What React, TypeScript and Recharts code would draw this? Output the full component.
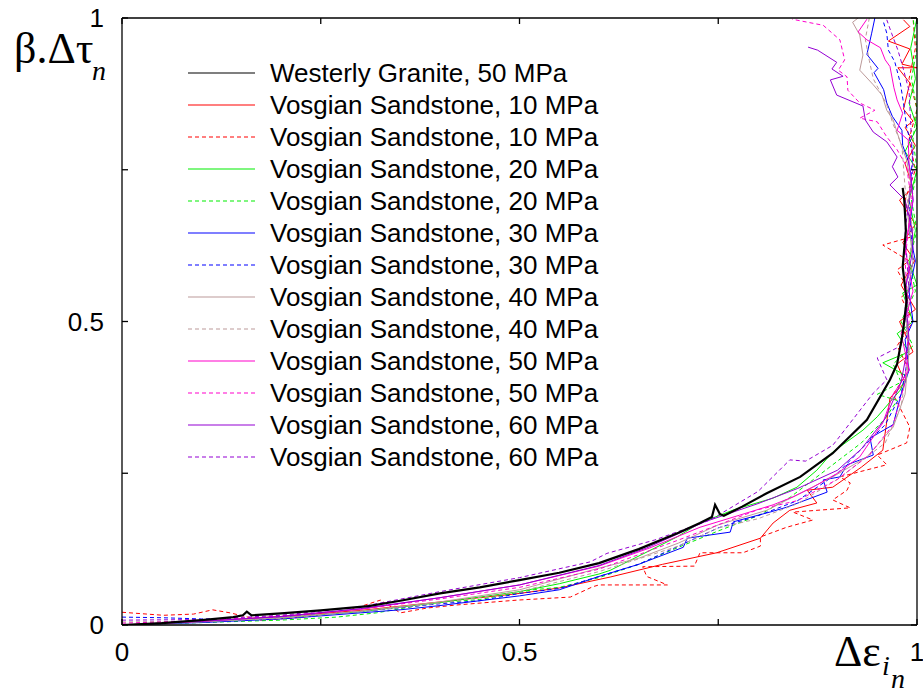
import { LineChart, Line, XAxis, YAxis, Legend } from 'recharts';

type Pt = [number, number];

// Westerly granite, 50 MPa
const granite: Pt[] = [
  [0, 0], [0.05, 0.003], [0.1, 0.008], [0.14, 0.013], [0.152, 0.016], [0.157, 0.022], [0.163, 0.016],
  [0.2, 0.019], [0.25, 0.024], [0.31, 0.031], [0.35, 0.04], [0.4, 0.052], [0.45, 0.062], [0.5, 0.074],
  [0.55, 0.086], [0.6, 0.102], [0.65, 0.125], [0.7, 0.152], [0.727, 0.168], [0.742, 0.178], [0.746, 0.198],
  [0.752, 0.183], [0.757, 0.18], [0.78, 0.195], [0.811, 0.217], [0.853, 0.244], [0.894, 0.283], [0.937, 0.338],
  [0.966, 0.404], [0.975, 0.43], [0.982, 0.48], [0.987, 0.535], [0.982, 0.59], [0.986, 0.65], [0.984, 0.7], [0.982, 0.72],
];

// Vosgian sandstone, two runs per confining pressure
const vs10a: Pt[] = [
  [0, 0], [0.1, 0.006], [0.2, 0.014], [0.3, 0.024], [0.4, 0.038], [0.5, 0.052], [0.55, 0.061], [0.614, 0.079],
  [0.68, 0.1], [0.748, 0.119], [0.803, 0.143], [0.819, 0.168], [0.84, 0.189], [0.874, 0.201], [0.862, 0.222],
  [0.894, 0.227], [0.93, 0.26], [0.957, 0.288], [0.966, 0.374], [0.985, 0.4], [0.975, 0.43], [0.995, 0.45],
  [0.978, 0.5], [0.998, 0.52], [0.98, 0.56], [0.997, 0.6], [0.982, 0.63], [0.998, 0.66], [0.978, 0.7],
  [0.995, 0.72], [0.985, 0.76], [0.998, 0.79], [0.985, 0.82], [0.995, 0.83], [0.983, 0.85], [0.991, 0.893],
  [0.976, 0.918], [1.0, 0.918], [0.981, 0.924], [0.991, 0.949], [0.964, 0.962], [0.991, 0.986], [0.983, 0.997],
];
const vs10b: Pt[] = [
  [0, 0.021], [0.052, 0.016], [0.09, 0.018], [0.114, 0.025], [0.136, 0.02], [0.174, 0.008], [0.22, 0.012],
  [0.28, 0.022], [0.325, 0.041], [0.35, 0.02], [0.384, 0.028], [0.421, 0.033], [0.497, 0.041], [0.564, 0.046],
  [0.592, 0.063], [0.6, 0.066], [0.686, 0.066], [0.66, 0.08], [0.655, 0.096], [0.72, 0.097], [0.727, 0.119],
  [0.781, 0.119], [0.803, 0.13], [0.803, 0.145], [0.836, 0.161], [0.869, 0.173], [0.844, 0.186], [0.916, 0.193],
  [0.894, 0.206], [0.912, 0.222], [0.916, 0.234], [0.903, 0.244], [0.962, 0.264], [0.95, 0.28], [0.987, 0.3],
  [0.991, 0.326], [0.97, 0.38], [0.99, 0.42], [0.975, 0.46], [0.995, 0.5], [0.98, 0.54], [0.99, 0.55],
  [0.975, 0.585], [0.99, 0.6], [0.957, 0.626], [0.995, 0.64], [0.985, 0.7], [0.998, 0.75], [0.99, 0.8],
  [1.0, 0.85], [0.99, 0.9], [0.998, 0.95], [0.995, 1.0],
];
const vs20a: Pt[] = [
  [0, 0], [0.1, 0.005], [0.2, 0.012], [0.3, 0.022], [0.4, 0.037], [0.5, 0.055], [0.55, 0.068], [0.6, 0.084],
  [0.614, 0.09], [0.698, 0.145], [0.727, 0.168], [0.77, 0.19], [0.819, 0.209], [0.849, 0.227], [0.874, 0.255],
  [0.894, 0.285], [0.932, 0.321], [0.95, 0.343], [0.979, 0.387], [0.987, 0.41], [0.957, 0.432], [0.99, 0.45],
  [0.975, 0.48], [0.995, 0.5], [0.982, 0.547], [1.0, 0.56], [0.99, 0.6], [0.998, 0.65], [0.99, 0.7], [1.0, 0.75],
  [0.985, 0.78], [1.0, 0.82], [0.99, 0.86], [0.998, 0.9], [0.992, 0.95], [1.0, 1.0],
];
const vs20b: Pt[] = [
  [0, 0], [0.1, 0.004], [0.199, 0.008], [0.27, 0.013], [0.32, 0.02], [0.391, 0.036], [0.45, 0.042], [0.517, 0.058],
  [0.55, 0.062], [0.6, 0.078], [0.65, 0.1], [0.7, 0.128], [0.75, 0.155], [0.8, 0.18], [0.84, 0.21], [0.87, 0.24],
  [0.9, 0.27], [0.93, 0.3], [0.96, 0.34], [0.975, 0.37], [0.95, 0.38], [0.98, 0.4], [0.97, 0.43], [0.995, 0.46],
  [0.98, 0.5], [0.998, 0.55], [0.99, 0.6], [1.0, 0.65], [0.993, 0.7], [1.0, 0.75], [0.995, 0.8], [1.0, 0.85],
  [0.993, 0.9], [1.0, 0.95], [0.995, 1.0],
];
const vs30a: Pt[] = [
  [0, 0], [0.1, 0.004], [0.2, 0.01], [0.3, 0.02], [0.35, 0.025], [0.4, 0.032], [0.5, 0.048], [0.55, 0.058],
  [0.6, 0.08], [0.65, 0.1], [0.706, 0.128], [0.711, 0.143], [0.765, 0.153], [0.769, 0.17], [0.815, 0.186],
  [0.836, 0.194], [0.887, 0.219], [0.882, 0.239], [0.903, 0.244], [0.912, 0.264], [0.945, 0.28], [0.941, 0.308],
  [0.97, 0.33], [0.98, 0.38], [0.99, 0.42], [0.985, 0.47], [0.995, 0.5], [0.99, 0.55], [0.998, 0.6], [0.99, 0.65],
  [0.995, 0.7], [0.992, 0.745], [0.989, 0.765], [0.982, 0.79], [0.981, 0.815], [0.969, 0.838], [0.962, 0.86],
  [0.958, 0.882], [0.946, 0.91], [0.951, 0.917], [0.937, 0.94], [0.943, 0.975], [0.947, 1.0],
];
const vs30b: Pt[] = [
  [0, 0.013], [0.05, 0.012], [0.1, 0.01], [0.15, 0.01], [0.2, 0.013], [0.3, 0.022], [0.4, 0.035], [0.45, 0.04],
  [0.5, 0.052], [0.55, 0.06], [0.6, 0.08], [0.65, 0.1], [0.7, 0.13], [0.75, 0.16], [0.8, 0.18], [0.85, 0.205],
  [0.9, 0.25], [0.93, 0.29], [0.96, 0.33], [0.98, 0.38], [0.99, 0.45], [0.985, 0.52], [0.995, 0.6], [0.99, 0.7],
  [0.995, 0.78], [0.987, 0.82], [0.983, 0.86], [0.979, 0.893], [0.972, 0.928], [0.964, 0.947], [0.962, 0.975],
  [0.957, 0.997],
];
const vs40a: Pt[] = [
  [0, 0], [0.1, 0.005], [0.2, 0.012], [0.3, 0.023], [0.4, 0.038], [0.5, 0.058], [0.601, 0.094], [0.65, 0.11],
  [0.7, 0.135], [0.75, 0.165], [0.811, 0.189], [0.853, 0.217], [0.894, 0.244], [0.937, 0.277], [0.97, 0.326],
  [0.985, 0.38], [0.99, 0.45], [0.985, 0.52], [0.995, 0.6], [0.988, 0.68], [0.992, 0.73], [0.987, 0.766],
  [0.981, 0.787], [0.97, 0.832], [0.962, 0.848], [0.956, 0.873], [0.945, 0.89], [0.928, 0.914], [0.932, 0.939],
  [0.928, 0.972], [0.919, 0.993], [0.926, 1.0],
];
const vs40b: Pt[] = [
  [0, 0.005], [0.1, 0.006], [0.2, 0.011], [0.3, 0.022], [0.4, 0.036], [0.5, 0.055], [0.6, 0.088], [0.7, 0.13],
  [0.75, 0.16], [0.8, 0.175], [0.85, 0.2], [0.9, 0.24], [0.93, 0.27], [0.96, 0.3], [0.98, 0.36], [0.99, 0.45],
  [0.985, 0.55], [0.995, 0.65], [0.985, 0.72], [0.981, 0.79], [0.97, 0.825], [0.962, 0.857], [0.945, 0.9],
  [0.94, 0.93], [0.935, 0.965], [0.94, 1.0],
];
const vs50a: Pt[] = [
  [0, 0], [0.1, 0.006], [0.2, 0.014], [0.3, 0.026], [0.4, 0.045], [0.5, 0.066], [0.6, 0.097], [0.664, 0.127],
  [0.727, 0.161], [0.777, 0.181], [0.819, 0.198], [0.844, 0.211], [0.869, 0.227], [0.9, 0.25], [0.928, 0.277],
  [0.957, 0.333], [0.97, 0.38], [0.99, 0.42], [0.98, 0.48], [0.995, 0.55], [0.985, 0.62], [0.995, 0.7],
  [0.99, 0.76], [0.989, 0.799], [0.975, 0.815], [0.982, 0.843], [0.975, 0.865], [0.971, 0.885], [0.966, 0.92],
  [0.96, 0.931], [0.954, 0.951], [0.937, 0.964], [0.926, 0.977], [0.937, 0.998],
];
const vs50b: Pt[] = [
  [0, 0.003], [0.1, 0.007], [0.2, 0.015], [0.3, 0.026], [0.4, 0.043], [0.5, 0.062], [0.6, 0.092], [0.7, 0.14],
  [0.75, 0.165], [0.8, 0.19], [0.85, 0.205], [0.9, 0.24], [0.94, 0.28], [0.97, 0.33], [0.985, 0.4], [0.99, 0.5],
  [0.985, 0.6], [0.993, 0.7], [0.987, 0.755], [0.975, 0.783], [0.962, 0.804], [0.95, 0.829], [0.928, 0.835],
  [0.947, 0.848], [0.928, 0.86], [0.913, 0.881], [0.912, 0.903], [0.901, 0.914], [0.909, 0.931], [0.903, 0.964],
  [0.882, 0.988], [0.843, 0.998],
];
const vs60a: Pt[] = [
  [0, 0], [0.1, 0.006], [0.2, 0.014], [0.3, 0.027], [0.4, 0.045], [0.5, 0.066], [0.6, 0.098], [0.66, 0.127],
  [0.733, 0.17], [0.8, 0.2], [0.85, 0.225], [0.9, 0.255], [0.93, 0.29], [0.96, 0.34], [0.98, 0.4], [0.99, 0.47],
  [0.985, 0.55], [0.995, 0.62], [0.994, 0.651], [0.985, 0.7], [0.966, 0.725], [0.976, 0.738], [0.969, 0.755],
  [0.975, 0.771], [0.962, 0.796], [0.945, 0.812], [0.935, 0.832], [0.932, 0.855], [0.899, 0.873], [0.891, 0.898],
  [0.907, 0.904], [0.893, 0.916], [0.899, 0.927], [0.875, 0.947], [0.863, 0.952],
];
const vs60b: Pt[] = [
  [0, 0.008], [0.1, 0.009], [0.2, 0.016], [0.3, 0.03], [0.4, 0.055], [0.5, 0.078], [0.589, 0.104], [0.61, 0.118],
  [0.67, 0.14], [0.74, 0.173], [0.8, 0.22], [0.84, 0.272], [0.86, 0.27], [0.894, 0.296], [0.916, 0.333],
  [0.945, 0.382], [0.962, 0.404], [0.95, 0.44], [0.98, 0.46], [0.99, 0.55], [0.985, 0.65], [0.995, 0.75],
  [0.99, 0.88], [0.982, 0.92], [0.976, 0.947], [0.968, 0.975], [0.962, 0.997],
];

const ticks = [0, 0.25, 0.5, 0.75, 1];
const tickLabels: Record<number, string> = { 0: '0', 0.5: '0.5', 1: '1' };

const series = [
  { key: 'wg50', name: 'Westerly Granite, 50 MPa', data: granite, color: '#000000', dashed: false },
  { key: 'vs10a', name: 'Vosgian Sandstone, 10 MPa', data: vs10a, color: '#ff0000', dashed: false },
  { key: 'vs10b', name: 'Vosgian Sandstone, 10 MPa', data: vs10b, color: '#ff0000', dashed: true },
  { key: 'vs20a', name: 'Vosgian Sandstone, 20 MPa', data: vs20a, color: '#00ee00', dashed: false },
  { key: 'vs20b', name: 'Vosgian Sandstone, 20 MPa', data: vs20b, color: '#00ee00', dashed: true },
  { key: 'vs30a', name: 'Vosgian Sandstone, 30 MPa', data: vs30a, color: '#0000ff', dashed: false },
  { key: 'vs30b', name: 'Vosgian Sandstone, 30 MPa', data: vs30b, color: '#0000ff', dashed: true },
  { key: 'vs40a', name: 'Vosgian Sandstone, 40 MPa', data: vs40a, color: '#bc9a9a', dashed: false },
  { key: 'vs40b', name: 'Vosgian Sandstone, 40 MPa', data: vs40b, color: '#bc9a9a', dashed: true },
  { key: 'vs50a', name: 'Vosgian Sandstone, 50 MPa', data: vs50a, color: '#ff00cc', dashed: false },
  { key: 'vs50b', name: 'Vosgian Sandstone, 50 MPa', data: vs50b, color: '#ff00cc', dashed: true },
  { key: 'vs60a', name: 'Vosgian Sandstone, 60 MPa', data: vs60a, color: '#9400d3', dashed: false },
  { key: 'vs60b', name: 'Vosgian Sandstone, 60 MPa', data: vs60b, color: '#9400d3', dashed: true },
];

const font = '"Liberation Sans", Arial, sans-serif';
const serif = '"Liberation Serif", "DejaVu Serif", serif';

const renderLegend = () => (
  <div style={{ fontFamily: font, fontSize: 26, color: '#000' }}>
    {series.map((s) => (
      <div key={s.key} style={{ display: 'flex', alignItems: 'center', height: 32 }}>
        <svg width={82} height={32} style={{ flex: 'none' }}>
          <line x1={0} x2={67} y1={16} y2={16} stroke={s.color} strokeWidth={1.2}
            strokeDasharray={s.dashed ? '4 3' : undefined} />
        </svg>
        <span style={{ whiteSpace: 'nowrap', lineHeight: '32px' }}>{s.name}</span>
      </div>
    ))}
  </div>
);

export default function App() {
  const axisStroke = { stroke: '#000', strokeWidth: 1.3 };
  const tickStyle = { fontFamily: font, fontSize: 26, fill: '#000' };
  const fmt = (v: number) => tickLabels[v] ?? '';
  // draw sandstone runs first, granite on top
  const drawOrder = [...series.slice(1), series[0]];

  return (
    <div style={{ position: 'absolute', left: 0, top: 0, width: 923, height: 696, background: '#fff' }}>
      <LineChart width={923} height={696} margin={{ top: 8, right: 0, bottom: 41, left: 62 }}>
        <XAxis xAxisId="b" dataKey="x" type="number" domain={[0, 1]} ticks={ticks} interval={0}
          allowDataOverflow height={30} axisLine={axisStroke} tickLine={axisStroke}
          tickSize={-6} tickMargin={24} tick={tickStyle} tickFormatter={fmt} />
        <XAxis xAxisId="t" orientation="top" dataKey="x" type="number" domain={[0, 1]} ticks={ticks}
          interval={0} allowDataOverflow height={10} axisLine={axisStroke} tickLine={axisStroke}
          tickSize={-6} tickFormatter={() => ''} />
        <YAxis yAxisId="l" type="number" domain={[0, 1]} ticks={ticks} interval={0} allowDataOverflow
          width={60} axisLine={axisStroke} tickLine={axisStroke} tickSize={-6} tickMargin={24}
          tick={tickStyle} tickFormatter={fmt} />
        <YAxis yAxisId="r" orientation="right" type="number" domain={[0, 1]} ticks={ticks} interval={0}
          allowDataOverflow width={6} axisLine={axisStroke} tickLine={axisStroke} tickSize={-6}
          tickFormatter={() => ''} />
        <Legend layout="vertical" align="center" verticalAlign="middle" content={renderLegend}
          wrapperStyle={{ left: 188, top: 57, width: 'auto' }} />
        {drawOrder.map((s) => (
          <Line key={s.key} xAxisId="b" yAxisId="l" data={s.data.map(([x, y]) => ({ x, y }))}
            dataKey="y" name={s.name} type="linear" dot={false} activeDot={false}
            stroke={s.color} strokeWidth={s.key === 'wg50' ? 2.2 : 1}
            strokeDasharray={s.dashed ? '4 3' : undefined} isAnimationActive={false} />
        ))}
      </LineChart>
      <svg width={923} height={696} style={{ position: 'absolute', left: 0, top: 0, pointerEvents: 'none' }}>
        <text x={14} y={63} fontFamily={serif} fontSize={44}>β.Δτ</text>
        <text x={92} y={80} fontFamily={serif} fontSize={28} fontStyle="italic">n</text>
        <text x={834} y={666} fontFamily={serif} fontSize={44}>Δε</text>
        <text x={882} y={675} fontFamily={serif} fontSize={28} fontStyle="italic">i</text>
        <text x={891} y={688} fontFamily={serif} fontSize={28} fontStyle="italic">n</text>
      </svg>
    </div>
  );
}
